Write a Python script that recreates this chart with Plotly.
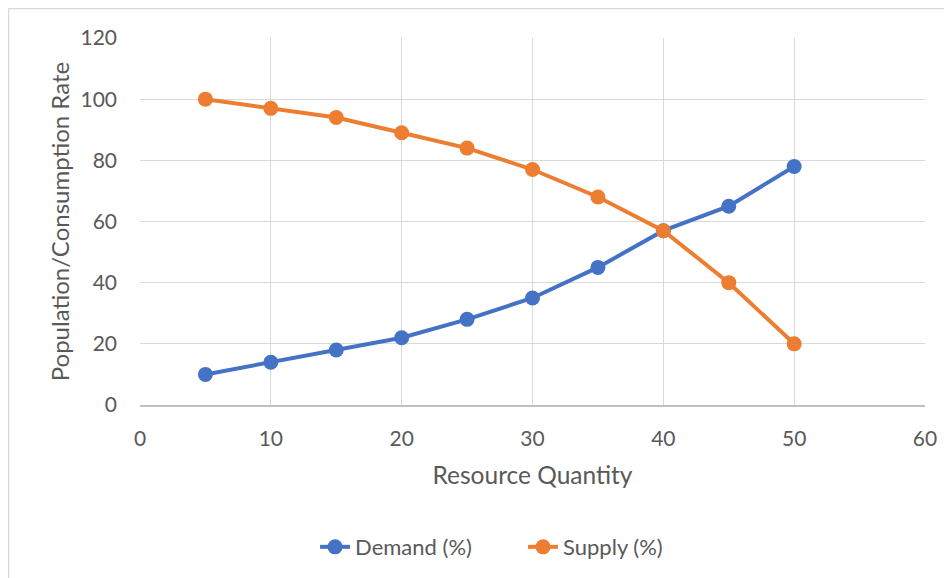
import plotly.graph_objects as go

quantity = [5, 10, 15, 20, 25, 30, 35, 40, 45, 50]
demand = [10, 14, 18, 22, 28, 35, 45, 57, 65, 78]
supply = [100, 97, 94, 89, 84, 77, 68, 57, 40, 20]

BLUE = "#4472C4"
ORANGE = "#ED7D31"
TXT = "#595959"
FONT = "Lato"

fig = go.Figure()
fig.add_trace(go.Scatter(x=quantity, y=demand, mode="lines+markers", name="Demand (%)",
                         line=dict(color=BLUE, width=4), marker=dict(size=15, color=BLUE)))
fig.add_trace(go.Scatter(x=quantity, y=supply, mode="lines+markers", name="Supply (%)",
                         line=dict(color=ORANGE, width=4), marker=dict(size=15, color=ORANGE)))

# page body adds an 8px offset, so margins are shifted by 8px
fig.update_layout(
    width=952, height=578,
    margin=dict(l=132, r=35, t=30, b=181),
    paper_bgcolor="white", plot_bgcolor="white",
    font=dict(family=FONT, size=21, color=TXT),
    showlegend=True,
    legend=dict(orientation="h", x=0.223, xanchor="left", y=-0.387, yanchor="middle",
                font=dict(size=22, color=TXT), tracegroupgap=0, entrywidth=163,
                entrywidthmode="pixels"),
    xaxis=dict(range=[0, 60], dtick=10, tick0=0, showgrid=True, gridcolor="#d9d9d9", gridwidth=1,
               zeroline=False, showline=True, linecolor="#bfbfbf", linewidth=1.5,
               ticks="", ticklabelstandoff=14, tickfont=dict(size=21, color=TXT),
               title=dict(text="Resource Quantity", font=dict(size=24.5, color=TXT), standoff=18),
               mirror=False),
    yaxis=dict(range=[0, 120], dtick=20, tick0=0, showgrid=True, gridcolor="#d9d9d9", gridwidth=1,
               zeroline=False, showline=False, ticks="", ticklabelstandoff=22,
               tickfont=dict(size=21, color=TXT),
               title=dict(text="Population/Consumption Rate", font=dict(size=24, color=TXT), standoff=4)),
)

# outer chart border (Excel chart area)
bx = (8.5 - 140) / 785
by = (405 - 8.5) / 367
fig.add_shape(type="line", xref="paper", yref="paper", x0=bx, x1=bx,
              y0=by, y1=(405 - 600) / 367, line=dict(color="#d9d9d9", width=1.5))
fig.add_shape(type="line", xref="paper", yref="paper", x0=bx, x1=(960 - 140) / 785,
              y0=by, y1=by, line=dict(color="#d9d9d9", width=1.5))

fig.write_html("out.html")
